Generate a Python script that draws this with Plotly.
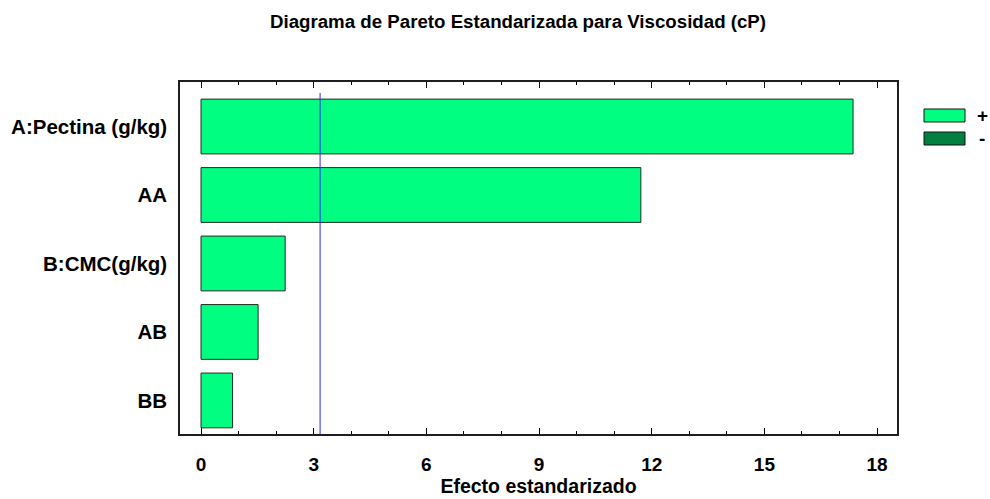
import plotly.graph_objects as go

# efectos estandarizados
terms = ["A:Pectina (g/kg)", "AA", "B:CMC(g/kg)", "AB", "BB"]
effects = [17.36, 11.71, 2.24, 1.52, 0.84]
signs = ["+", "+", "+", "+", "+"]
t_crit = 3.17

x_ticks = [0, 3, 6, 9, 12, 15, 18]

pos_color = "rgb(0,255,128)"
neg_color = "rgb(0,128,64)"
font_family = "Liberation Sans, Arial, sans-serif"

W, H = 990, 499
L, R, T, B = 180, 93, 82, 65
pw, ph = W - L - R, H - T - B

ypos = list(range(len(terms)))
bar_colors = [pos_color if s == "+" else neg_color for s in signs]

fig = go.Figure()
fig.add_trace(go.Bar(
    x=effects,
    y=ypos,
    orientation="h",
    width=0.8,
    marker=dict(color=bar_colors, line=dict(color="rgb(40,40,40)", width=1)),
    showlegend=False,
    hoverinfo="x",
))

# linea del valor critico
fig.add_shape(type="line", xref="x", yref="paper",
              x0=t_crit, x1=t_crit, y0=0, y1=1 - 11 / ph,
              line=dict(color="rgb(40,40,255)", width=1))

# leyenda dibujada a mano (rectangulos grandes como en el original)
legend_items = [("+", pos_color, 109), ("-", neg_color, 132)]
for lab, col, ytop_px in legend_items:
    ytop = 1 - (ytop_px - T) / ph
    ybot = 1 - (ytop_px + 13 - T) / ph
    fig.add_shape(type="rect", xref="paper", yref="paper",
                  x0=(924 - L) / pw, x1=(965 - L) / pw, y0=ybot, y1=ytop,
                  fillcolor=col, line=dict(color="rgb(20,20,20)", width=1))
    fig.add_annotation(xref="paper", yref="paper", x=(982 - L) / pw,
                       y=(ytop + ybot) / 2, text="<b>" + lab + "</b>",
                       showarrow=False, xanchor="center", yanchor="middle",
                       font=dict(size=19, color="black", family=font_family))

fig.update_layout(
    width=W, height=H,
    margin=dict(l=L, r=R, t=T, b=B, autoexpand=False),
    paper_bgcolor="white", plot_bgcolor="white",
    font=dict(family=font_family, color="black"),
    title=dict(text="<b>Diagrama de Pareto Estandarizada para Viscosidad (cP)</b>",
               x=518 / W, xanchor="center", y=1 - 21 / H, yanchor="middle",
               font=dict(size=18.7, color="black")),
    bargap=0.2,
)

fig.update_xaxes(
    range=[-0.56, 18.53],
    tickvals=x_ticks,
    ticktext=["<b>%d</b>" % v for v in x_ticks],
    tickfont=dict(size=19),
    ticks="inside", ticklen=6, tickwidth=1.2, tickcolor="black",
    ticklabelstandoff=12,
    minor=dict(dtick=1, ticks="inside", ticklen=3, tickcolor="black", tickwidth=1),
    showgrid=False, zeroline=False,
    showline=True, linecolor="rgb(30,30,30)", linewidth=1.5, mirror="ticks",
    title=dict(text="<b>Efecto estandarizado</b>", font=dict(size=19.5), standoff=6),
)

fig.update_yaxes(
    range=[len(terms) - 1 + 0.49, -0.65],
    tickvals=ypos,
    ticktext=["<b>" + t + "</b>" for t in terms],
    tickfont=dict(size=20.5),
    ticks="", ticklabelstandoff=7,
    showgrid=False, zeroline=False,
    showline=True, linecolor="rgb(30,30,30)", linewidth=1.5, mirror=True,
)

# quitar el margen del body para que la figura ocupe la ventana exacta
fig.write_html("out.html", config={"displayModeBar": False},
               post_script="document.body.style.margin='0';document.body.style.overflow='hidden';")
